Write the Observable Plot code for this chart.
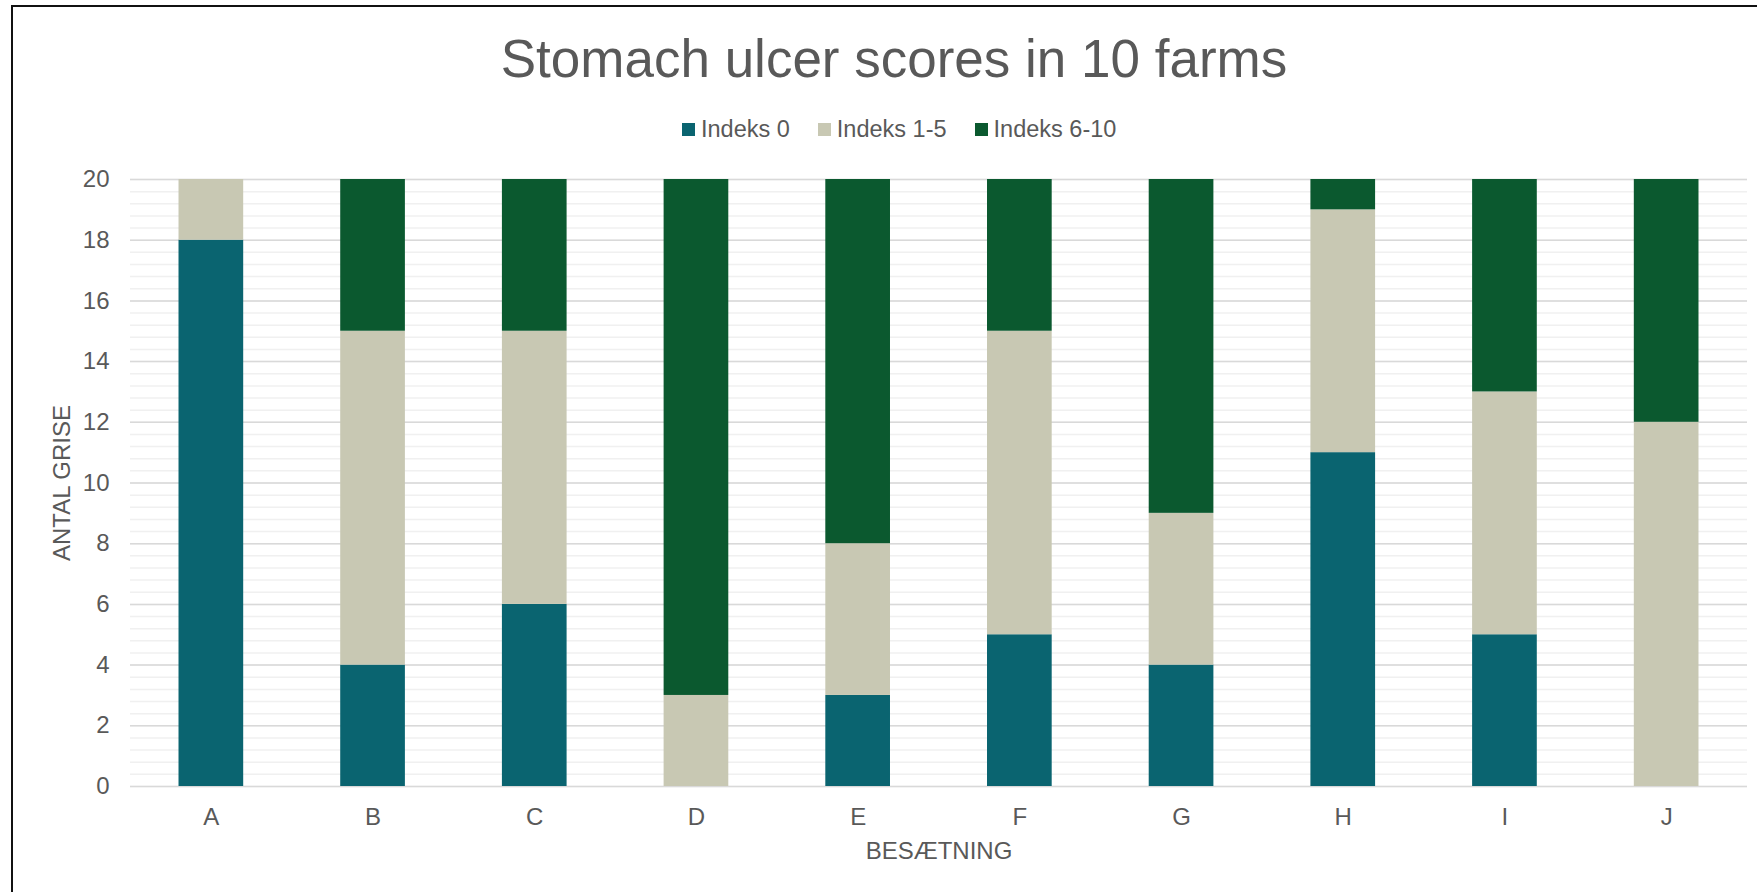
<!DOCTYPE html>
<html>
<head>
<meta charset="utf-8">
<script src="https://cdn.jsdelivr.net/npm/d3@7"></script>
<script src="https://cdn.jsdelivr.net/npm/@observablehq/plot@0.6"></script>
<style>
  html, body { margin: 0; padding: 0; overflow: hidden; background: #fff; width: 1757px; height: 892px; }
  body { position: relative; font-family: "Liberation Sans", Arial, sans-serif; }
  #frame { position: absolute; left: 11px; top: 5px; width: 1800px; height: 1000px; border: 2px solid #111; box-sizing: border-box; }
  #title { position: absolute; left: 0; width: 1788px; top: 26px; text-align: center; font-size: 53px; color: #595959; line-height: 66px; white-space: nowrap; }
  #legend { position: absolute; left: 682px; top: 114px; height: 30px; display: flex; align-items: center; font-size: 23.5px; color: #595959; white-space: nowrap; }
  .item { display: flex; align-items: center; margin-right: 28px; }
  .sw { width: 13px; height: 13px; margin-right: 6px; }
  #chart { position: absolute; left: 0; top: 150px; }
</style>
</head>
<body>
<div id="frame"></div>
<div id="title"></div>
<div id="legend"></div>
<div id="chart"></div>
<script>
const titleText = "Stomach ulcer scores in 10 farms";
const farms = ["A", "B", "C", "D", "E", "F", "G", "H", "I", "J"];
const seriesNames = ["Indeks 0", "Indeks 1-5", "Indeks 6-10"];
const seriesColors = ["#0a6470", "#c8c8b3", "#0b592f"];
const indeks0 = [18, 4, 6, 0, 3, 5, 4, 11, 5, 0];
const indeks1to5 = [2, 11, 9, 3, 5, 10, 5, 8, 8, 12];
const indeks6to10 = [0, 5, 5, 17, 12, 5, 11, 1, 7, 8];
const yTicks = [0, 2, 4, 6, 8, 10, 12, 14, 16, 18, 20];
const yMinorStep = 0.4;
const xLabel = "BESÆTNING";
const yLabel = "ANTAL GRISE";

const seriesValues = [indeks0, indeks1to5, indeks6to10];
const table = [];
seriesNames.forEach((s, si) => {
  farms.forEach((f, fi) => table.push({farm: f, series: s, value: seriesValues[si][fi]}));
});

const minorTicks = d3.range(0, 20 + 1e-9, yMinorStep).map(v => +v.toFixed(2));

document.getElementById("title").textContent = titleText;
const legend = document.getElementById("legend");
seriesNames.forEach((s, i) => {
  const it = document.createElement("div");
  it.className = "item";
  const sw = document.createElement("div");
  sw.className = "sw";
  sw.style.background = seriesColors[i];
  const tx = document.createElement("span");
  tx.textContent = s;
  it.appendChild(sw); it.appendChild(tx);
  legend.appendChild(it);
});

const chart = Plot.plot({
  width: 1757,
  height: 742,
  marginTop: 29,
  marginBottom: 106,
  marginLeft: 130,
  marginRight: 10,
  style: {fontFamily: "Liberation Sans, Arial, sans-serif", fontSize: "24px", color: "#595959", background: "transparent"},
  x: {domain: farms, paddingInner: 0.6, paddingOuter: 0.3, round: false, label: null},
  y: {domain: [0, 20], label: null},
  color: {domain: seriesNames, range: seriesColors},
  marks: [
    Plot.ruleY(minorTicks, {stroke: "#f0f0f0", strokeWidth: 1.5}),
    Plot.ruleY(yTicks, {stroke: "#d9d9d9", strokeWidth: 1.5}),
    Plot.barY(table, {x: "farm", y: "value", fill: "series", order: seriesNames}),
    Plot.axisX({tickSize: 0, tickPadding: 21, fill: "#595959", fontSize: 24, label: xLabel, labelAnchor: "center", labelOffset: 72, labelArrow: "none"}),
    Plot.axisY({ticks: yTicks, tickSize: 0, tickPadding: 21, fill: "#595959", fontSize: 24, label: yLabel, labelAnchor: "center", labelOffset: 78, labelArrow: "none"})
  ]
});
document.getElementById("chart").appendChild(chart);
</script>
</body>
</html>
